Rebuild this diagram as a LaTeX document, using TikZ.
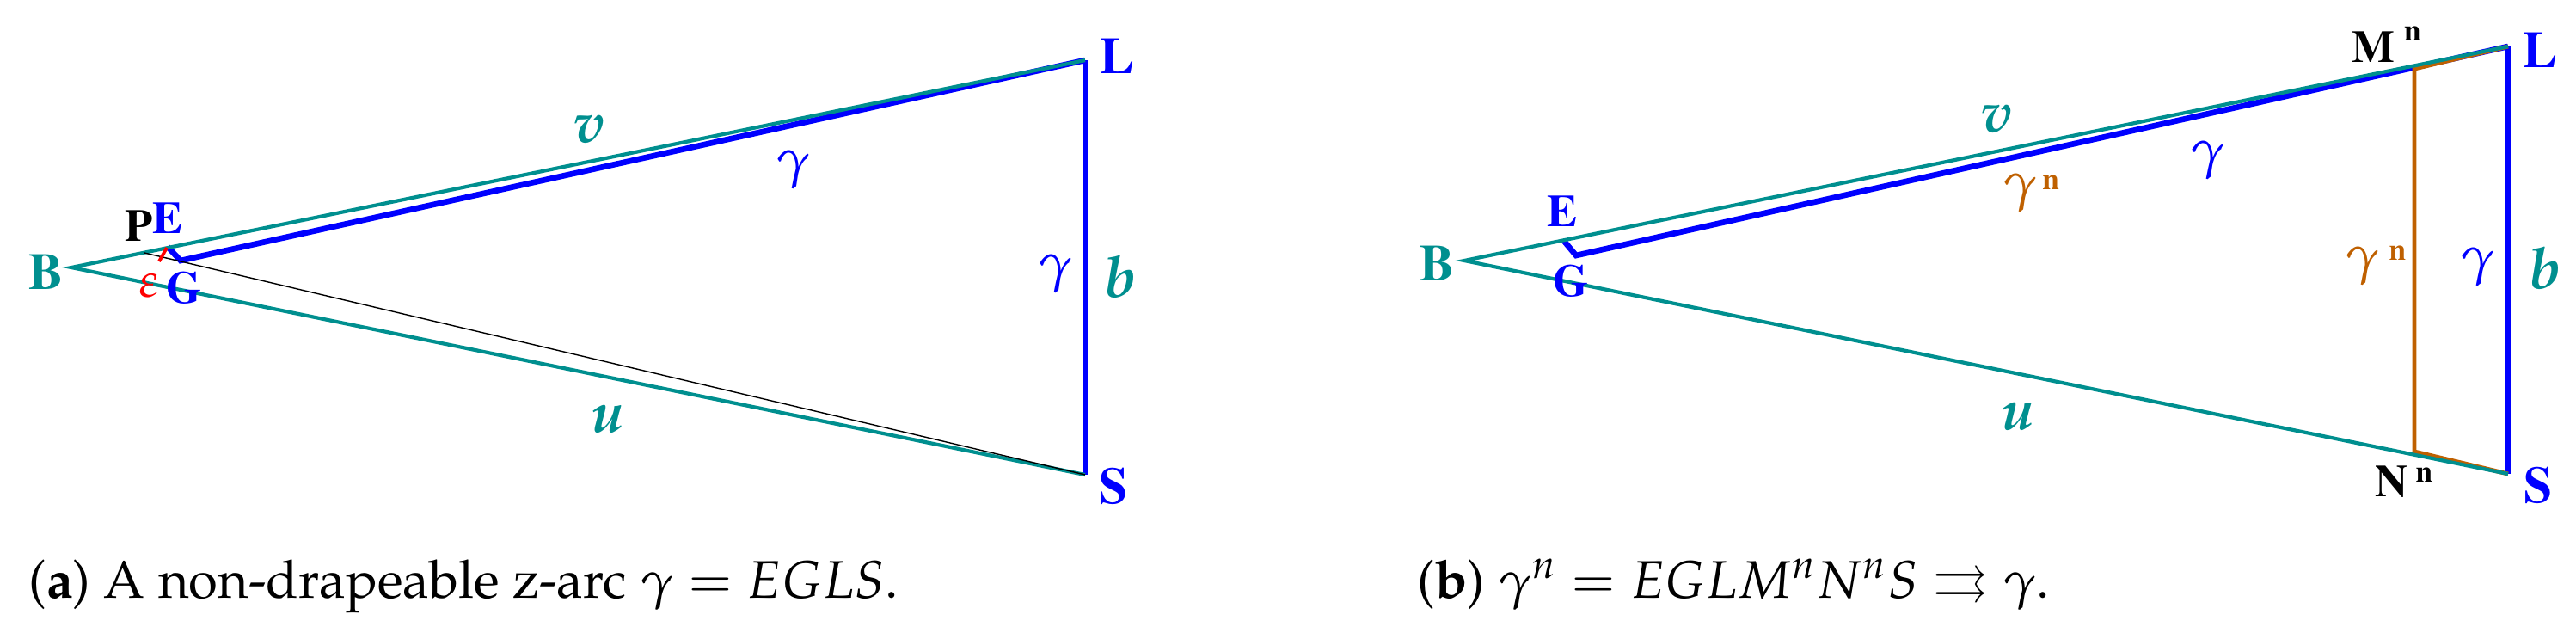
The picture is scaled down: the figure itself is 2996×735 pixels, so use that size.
\documentclass[tikz,border=0pt]{standalone}
\usepackage[T1]{fontenc}
\usepackage{mathpazo}
\usepackage{amssymb}
\definecolor{zteal}{RGB}{0,143,143}
\definecolor{zorange}{RGB}{191,96,0}
\newcommand{\nsup}[1]{{\fontsize{10}{10}\fontfamily{ptm}\fontseries{b}\fontshape{n}\selectfont\raisebox{#1}{n}}}
\tikzset{
  tline/.style={zteal, line width=1.2pt},
  gline/.style={blue, line width=1.9pt},
  nline/.style={zorange, line width=1.4pt},
  lab/.style={inner sep=0pt, font=\fontsize{17}{17}\fontfamily{ptm}\fontseries{b}\fontshape{n}\selectfont},
  slab/.style={inner sep=0pt, font=\fontsize{15}{15}\fontfamily{ptm}\fontseries{b}\fontshape{n}\selectfont},
  side/.style={inner sep=0pt, zteal, font=\fontsize{19}{19}\selectfont\bfseries\itshape},
  gam/.style={inner sep=0pt, font=\fontsize{18}{18}\selectfont},
  capt/.style={inner sep=0pt, anchor=base west, font=\fontsize{17.5}{21}\selectfont}
}
\begin{document}
\begin{tikzpicture}[x=0.01cm, y=-0.01cm]
  %tikz  z-arc, non-drapeable
    \useasboundingbox (0,0) rectangle (2996,735);
    \coordinate(B1) at (83,311);
    \coordinate(L1) at (1262,70);
    \coordinate(S1) at (1262,552);
    \coordinate(E1) at (195,287);
    \coordinate(G1) at (210,303);
    \coordinate(P1) at (168,294);
    \coordinate(R1) at (185,304);
    \coordinate(R2) at (194,288);

    \draw[gline] (E1) -- (G1) -- (L1);
    \draw[gline, line width=1.7pt] (L1) -- (S1);
    \draw[tline] (L1) -- (B1) -- (S1);
    \draw[line width=0.4pt] (P1) -- (S1);
    \draw[red, line width=1.1pt] (R1) -- (R2);

    \node[lab, zteal] (bB1) at (53,316) {B};
    \node[slab] (bP1) at (162,262) {P};
    \node[slab, blue] (bE1) at (195,253) {E};
    \node[slab, blue] (bG1) at (214,335) {G};
    \node[gam, red, font=\fontsize{16}{16}\selectfont] (bR1) at (173,332) {$\varepsilon$};
    \node[lab, blue] (bL1) at (1299,65) {L};
    \node[lab, blue] (bS1) at (1295,565) {S};
    \node[side] (bv1) at (686,150) {v};
    \node[side] (bu1) at (707,487) {u};
    \node[side] (bb1) at (1303,322) {b};
    \node[gam, blue] (bg1) at (923,197) {$\gamma$};
    \node[gam, blue] (bg2) at (1228,318) {$\gamma$};

    \coordinate(B2) at (1703,303);
    \coordinate(L2) at (2917,54);
    \coordinate(S2) at (2917,551);
    \coordinate(E2) at (1818,279);
    \coordinate(G2) at (1833,297);
    \coordinate(M2) at (2808,80);
    \coordinate(N2) at (2808,525);

    \draw[gline] (E2) -- (G2) -- (L2);
    \draw[gline, line width=1.7pt] (L2) -- (S2);
    \draw[nline] (L2) -- (M2) -- (N2) -- (S2);
    \draw[tline] (L2) -- (B2) -- (S2);

    \node[lab, zteal] (bB2) at (1671,306) {B};
    \node[slab, blue] (bE2) at (1817,245) {E};
    \node[slab, blue] (bG2) at (1827,327) {G};
    \node[lab, blue] (bL2) at (2954,58) {L};
    \node[lab, blue] (bS2) at (2952,564) {S};
    \node[slab, anchor=base west] (bM2) at (2735,72) {M\hspace{3pt}\nsup{7pt}};
    \node[slab, anchor=base west] (bN2) at (2762,577) {N\hspace{2.5pt}\nsup{4.8pt}};
    \node[side] (bv2) at (2323,138) {v};
    \node[side] (bu2) at (2347,484) {u};
    \node[side] (bb2) at (2960,312) {b};
    \node[gam, blue] (bg3) at (2568,186) {$\gamma$};
    \node[gam, blue] (bg4) at (2882,310) {$\gamma$};
    \node[gam, zorange, anchor=base west] (bh1) at (2329,232) {$\gamma$\hspace{1.5pt}\nsup{3.4pt}};
    \node[gam, zorange, anchor=base west] (bh2) at (2727,317) {$\gamma$\hspace{3pt}\nsup{4pt}};

    \node[capt] (capa) at (33,695) {(\textbf{a}) A non-drapeable z-arc $\gamma = EGLS$.};
    \node[capt] (capb) at (1648,695) {(\textbf{b}) $\gamma^n = EGLM^nN^nS \rightrightarrows \gamma$.};
  \end{tikzpicture}
\end{document}
